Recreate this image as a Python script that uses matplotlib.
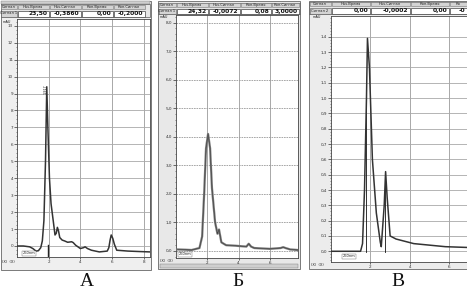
import matplotlib
matplotlib.use("Agg")
import matplotlib.pyplot as plt
from matplotlib.patches import Rectangle
from matplotlib.ticker import MultipleLocator, FixedLocator

# ---------------- data ----------------
# Panel A
a_time = [0.05, 0.4, 0.8, 1.0, 1.2, 1.35, 1.5, 1.6, 1.7, 1.8, 1.88, 1.95, 2.05, 2.15, 2.3,
          2.4, 2.48, 2.55, 2.62, 2.7, 2.85, 3.0, 3.2, 3.45, 3.55, 3.7, 4.0, 4.2, 4.3, 4.45,
          4.7, 5.2, 5.7, 5.8, 5.88, 5.95, 6.05, 6.15, 6.3, 7.0, 7.8, 8.4]
a_signal = [0.0, 0.0, -0.05, -0.15, -0.3, -0.28, -0.1, 0.3, 1.5, 5.0, 9.4, 7.0, 4.0, 2.5, 1.4,
            0.65, 0.75, 1.1, 0.9, 0.5, 0.35, 0.3, 0.22, 0.25, 0.2, 0.05, -0.15, -0.1, -0.05, -0.15,
            -0.25, -0.35, -0.3, -0.1, 0.35, 0.65, 0.45, 0.1, -0.25, -0.3, -0.33, -0.35]
a_yticks = list(range(0, 14))
a_xticks = [2, 4, 6, 8]
a_header = ["Сигнал", "Нач.Время", "Нач.Сигнал", "Кон.Время", "Кон.Сигнал"]
a_values = ["Сигнал 1", "23,50", "-0,3860", "0,00", "-0,2000"]

# Panel Б
b_time = [0.1, 0.6, 1.0, 1.5, 1.67, 1.8, 1.92, 2.05, 2.18, 2.3, 2.5, 2.65, 2.75, 2.9, 3.2,
          3.8, 4.5, 4.65, 4.8, 5.0, 6.0, 6.7, 6.85, 7.0, 7.3, 7.8]
b_signal = [0.05, 0.04, 0.03, 0.1, 0.5, 2.0, 3.6, 4.1, 3.6, 2.2, 1.0, 0.6, 0.75, 0.3, 0.2,
            0.18, 0.15, 0.25, 0.15, 0.1, 0.07, 0.1, 0.13, 0.1, 0.05, 0.03]
b_yticks = list(range(0, 9))
b_ylabels = ["0,0", "1,0", "2,0", "3,0", "4,0", "5,0", "6,0", "7,0", "8,0"]
b_xticks = [2, 4, 6]
b_header = ["Сигнал", "Нач.Время", "Нач.Сигнал", "Кон.Время", "Кон.Сигнал"]
b_values = ["Сигнал 1", "24,32", "-0,0072", "0,08", "3,0000"]

# Panel В
c_time = [0.0, 0.5, 1.0, 1.5, 1.6, 1.7, 1.8, 1.85, 1.95, 2.1, 2.3, 2.5, 2.55, 2.7, 2.77,
          2.85, 3.0, 3.3, 4.2, 5.0, 5.8, 6.9]
c_signal = [0.0, 0.0, 0.0, 0.0, 0.05, 0.4, 1.0, 1.39, 1.2, 0.6, 0.25, 0.06, 0.03, 0.3, 0.52,
            0.35, 0.1, 0.08, 0.05, 0.04, 0.03, 0.025]
c_yticks = [i / 10 for i in range(0, 15)]
c_ylabels = ["0,0", "0,1", "0,2", "0,3", "0,4", "0,5", "0,6", "0,7", "0,8", "0,9",
             "1,0", "1,1", "1,2", "1,3", "1,4"]
c_xticks = [2, 4, 6]
c_header = ["Сигнал", "Нач.Время", "Нач.Сигнал", "Кон.Время", "Ко"]
c_values = ["Сигнал 2", "0,00", "-0,0002", "0,00", "-0"]

panel_letters = ["А", "Б", "В"]

# ---------------- figure ----------------
W, H = 467, 291
fig = plt.figure(figsize=(W / 100, H / 100), dpi=100)
fig.patch.set_facecolor("white")

ov = fig.add_axes([0, 0, 1, 1])
ov.set_xlim(0, W)
ov.set_ylim(H, 0)
ov.axis("off")

TXT = "#222222"


def header(x0, x1, cols, rows_y, labels, values):
    """Draw the table header above a chart."""
    (h0, h1), (v0, v1) = rows_y
    ov.add_patch(Rectangle((x0, h0), x1 - x0, v1 - h0, fc="#e6e6e6", ec="#555555", lw=0.5))
    for i, lab in enumerate(labels):
        cx0, cx1 = cols[i], cols[i + 1]
        ov.add_patch(Rectangle((cx0 + 0.5, h0 + 0.5), cx1 - cx0 - 1, h1 - h0 - 1,
                               fc="#d4d4d4", ec="#777777", lw=0.4))
        ov.text((cx0 + cx1) / 2, (h0 + h1) / 2, lab, fontsize=2.6, color=TXT,
                ha="center", va="center")
    for i, val in enumerate(values):
        cx0, cx1 = cols[i], cols[i + 1]
        if i == 0:
            ov.add_patch(Rectangle((cx0 + 0.5, v0 + 0.5), cx1 - cx0 - 1, v1 - v0 - 1,
                                   fc="#d4d4d4", ec="#555555", lw=0.4))
            ov.text((cx0 + cx1) / 2, (v0 + v1) / 2, val, fontsize=2.6, color=TXT,
                    ha="center", va="center")
        else:
            ov.add_patch(Rectangle((cx0 + 0.5, v0 + 0.5), cx1 - cx0 - 1, v1 - v0 - 1,
                                   fc="white", ec="#444444", lw=0.5))
            ov.text(cx1 - 1.5, (v0 + v1) / 2 + 0.3, val, fontsize=4.3, color="#111111",
                    ha="right", va="center", fontweight="bold")


def chart(l, t, r, b, x0, x1, y0, y1, time, sig, yticks, ylabels, xticks,
          hdash=False, lw=0.8, color="#333333", minor=None):
    ax = fig.add_axes([l / W, 1 - b / H, (r - l) / W, (b - t) / H])
    ax.set_facecolor("white")
    ax.set_xlim(x0, x1)
    ax.set_ylim(y0, y1)
    ax.yaxis.set_major_locator(FixedLocator(yticks))
    ax.set_yticklabels(ylabels)
    ax.xaxis.set_major_locator(FixedLocator(xticks))
    ax.set_xticklabels([str(v) for v in xticks])
    if minor:
        ax.yaxis.set_minor_locator(MultipleLocator(minor))
    ax.tick_params(axis="y", which="major", labelsize=3.0, length=2, width=0.5,
                   pad=0.8, colors="#333333")
    ax.tick_params(axis="y", which="minor", length=1, width=0.4, colors="#333333")
    ax.tick_params(axis="x", labelsize=3.0, length=1.5, width=0.5, pad=0.8,
                   colors="#333333")
    ax.grid(axis="x", color="#9a9a9a", lw=0.6)
    if hdash:
        ax.grid(axis="y", color="#9a9a9a", lw=0.6, ls=(0, (2, 1)))
    else:
        ax.grid(axis="y", color="#a8a8a8", lw=0.6)
    for s in ax.spines.values():
        s.set_color("#444444")
        s.set_linewidth(0.6)
    ax.plot(time, sig, color=color, lw=lw, zorder=3)
    return ax


# ---- Panel A ----
ov.add_patch(Rectangle((0.5, 0.5), 150, 269, fc="#efefef", ec="#666666", lw=0.6))
ov.add_patch(Rectangle((1, 0.5), 149, 3.5, fc="#cfcfcf", ec="#777777", lw=0.3))
header(0.5, 150, [0.5, 17, 49, 81, 113, 145], ((4, 9.5), (10, 17)), a_header, a_values)
axA = chart(17, 19, 150, 257, 0, 8.4, -0.65, 13.4, a_time, a_signal, a_yticks,
            [str(v) for v in a_yticks], a_xticks, lw=1.1, color="#333333", minor=0.25)
axA.axvline(1.95, ymin=0, ymax=0.05, color="#222222", lw=1.0)
axA.text(0.35, -0.5, "260nm", fontsize=2.6, color=TXT,
         bbox=dict(fc="white", ec="#666666", lw=0.3, pad=0.4))
axA.text(1.8, 9.0, "1,917", fontsize=2.4, rotation=90, color=TXT, ha="center", va="bottom")
ov.text(3, 22, "mAU", fontsize=2.5, color=TXT, ha="left", va="center")
ov.text(2, 262, "(X)  (X)", fontsize=2.6, color=TXT, ha="left", va="center")
ov.text(87, 282, panel_letters[0], fontsize=14, family="Liberation Serif",
        color="#111111", ha="center", va="center")

# ---- Panel Б ----
ov.add_patch(Rectangle((158, 0.5), 142, 268, fc="#e8e8e8", ec="#666666", lw=0.6))
header(158, 300, [158, 176, 208, 240, 271, 299], ((2.5, 7.5), (8, 14)), b_header, b_values)
axB = chart(176, 15, 298, 258, 0, 7.8, -0.25, 8.27, b_time, b_signal, b_yticks,
            b_ylabels, b_xticks, hdash=True, lw=1.6, color="#7a7a7a", minor=0.2)
axB.plot(b_time, b_signal, color="#333333", lw=0.35, zorder=4)
axB.text(0.15, -0.15, "260nm", fontsize=2.6, color=TXT,
         bbox=dict(fc="white", ec="#666666", lw=0.3, pad=0.4))
ov.text(160, 17, "mAU", fontsize=2.5, color=TXT, ha="left", va="center")
ov.text(160, 261, "(X)  (X)", fontsize=2.6, color=TXT, ha="left", va="center")
ov.add_patch(Rectangle((160, 264), 138, 4, fc="#cfcfcf", ec="#777777", lw=0.3))
ov.text(238, 282, panel_letters[1], fontsize=14, family="Liberation Serif",
        color="#111111", ha="center", va="center")

# ---- Panel В ----
ov.add_patch(Rectangle((309, 0.5), 157.5, 268, fc="#ececec", ec="#666666", lw=0.6))
header(309, 467, [309, 331, 370, 410, 449, 467], ((1.5, 6.5), (7, 14)), c_header, c_values)
axC = chart(331, 16, 467, 262, 0, 6.9, -0.07, 1.536, c_time, c_signal, c_yticks,
            c_ylabels, c_xticks, lw=1.1, color="#333333", minor=0.02)
axC.axvline(1.78, ymin=0.04, ymax=0.63, color="#111111", lw=0.6)
axC.axvline(2.75, ymin=0.04, ymax=0.35, color="#111111", lw=0.6)
axC.text(0.6, -0.04, "260nm", fontsize=2.6, color=TXT,
         bbox=dict(fc="white", ec="#666666", lw=0.3, pad=0.4))
ov.text(313, 17.5, "mAU", fontsize=2.5, color=TXT, ha="left", va="center")
ov.text(311, 265, "(X)  (X)", fontsize=2.6, color=TXT, ha="left", va="center")
ov.text(398, 282, panel_letters[2], fontsize=14, family="Liberation Serif",
        color="#111111", ha="center", va="center")

fig.savefig("out.png", dpi=100, facecolor="white")
